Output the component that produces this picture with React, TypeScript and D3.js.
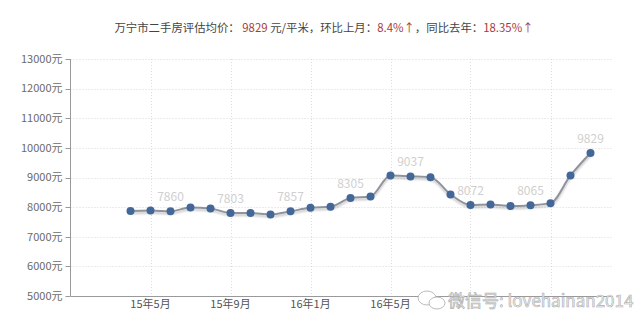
import React from "react";
import * as d3 from "d3";

// Monthly series: 2015-04 .. 2017-03 (index 0 = 15年4月)
const monthIndex = d3.range(0, 24);
const prices = [
  7865, 7885, 7860, 7990, 7955, 7803, 7805, 7750, 7857, 7980, 8010, 8305,
  8360, 9065, 9037, 9010, 8430, 8072, 8090, 8035, 8065, 8135, 9070, 9829,
];
const labelEvery = 3; // labels on indices 2,5,8,...
const yTicks = [5000, 6000, 7000, 8000, 9000, 10000, 11000, 12000, 13000];
const xTickMonths = [1, 5, 9, 13, 17, 21];
const xTickLabels = ["15年5月", "15年9月", "16年1月", "16年5月", "", ""];
const titleParts = [
  { t: "万宁市二手房评估均价： ", c: "#444" },
  { t: "9829", c: "#a83a3a" },
  { t: " 元/平米，环比上月：", c: "#444" },
  { t: "8.4%↑", c: "#a83a3a" },
  { t: "，同比去年：", c: "#444" },
  { t: "18.35%↑", c: "#a83a3a" },
];
const watermark = "微信号: lovehainan2014";

const W = 640;
const H = 330;
const FONT = "'Noto Sans CJK SC', 'Noto Sans', sans-serif";

export default function App() {
  const x = d3.scaleLinear().domain([-3, 24]).range([70.5, 610.5]);
  const y = d3.scaleLinear().domain([5000, 13000]).range([296, 59]);
  const left = x(-3);
  const right = 613;
  const line = d3
    .line<number>()
    .x((_, i) => x(monthIndex[i]))
    .y((d) => y(d))
    .curve(d3.curveMonotoneX);
  const path = line(prices) || "";

  return (
    <svg
      width={W}
      height={H}
      style={{ position: "absolute", left: 0, top: 0, background: "#fff" }}
      fontFamily={FONT}
    >
      <defs>
        <filter id="sh" x="-5%" y="-20%" width="110%" height="160%">
          <feGaussianBlur in="SourceAlpha" stdDeviation="1.2" />
          <feOffset dx="0" dy="2" result="b" />
          <feComponentTransfer>
            <feFuncA type="linear" slope="0.25" />
          </feComponentTransfer>
          <feMerge>
            <feMergeNode />
            <feMergeNode in="SourceGraphic" />
          </feMerge>
        </filter>
      </defs>

      {/* title */}
      <text x={324} y={32} fontSize={11.4} textAnchor="middle">
        {titleParts.map((p, i) => (
          <tspan key={i} fill={p.c}>
            {p.t}
          </tspan>
        ))}
      </text>

      {/* horizontal grid */}
      {yTicks.map((v) => (
        <g key={v}>
          {v !== 5000 && (
            <line
              x1={left}
              x2={right}
              y1={Math.round(y(v)) + 0.5}
              y2={Math.round(y(v)) + 0.5}
              stroke="#d8d8d8"
              strokeDasharray="1,2"
            />
          )}
          <line
            x1={left - 5}
            x2={left}
            y1={Math.round(y(v)) + 0.5}
            y2={Math.round(y(v)) + 0.5}
            stroke="#999"
          />
          <text
            x={left - 8}
            y={y(v)}
            dy="0.35em"
            fontSize={11}
            fill="#6a6a6a"
            textAnchor="end"
          >
            {v}元
          </text>
        </g>
      ))}

      {/* vertical grid */}
      {xTickMonths.map((m, i) => (
        <g key={m}>
          <line
            x1={Math.round(x(m)) + 0.5}
            x2={Math.round(x(m)) + 0.5}
            y1={y(13000)}
            y2={y(5000)}
            stroke="#dcdcdc"
            strokeDasharray="1,2"
          />
          {xTickLabels[i] && (
            <text
              x={x(m)}
              y={308}
              fontSize={11}
              fill="#555"
              textAnchor="middle"
            >
              {xTickLabels[i]}
            </text>
          )}
        </g>
      ))}

      {/* axes */}
      <line
        x1={left}
        x2={left}
        y1={y(13000)}
        y2={y(5000)}
        stroke="#999"
      />
      <line
        x1={left}
        x2={right}
        y1={Math.round(y(5000)) + 0.5}
        y2={Math.round(y(5000)) + 0.5}
        stroke="#999"
      />

      {/* line */}
      <path
        d={path}
        fill="none"
        stroke="#8f949c"
        strokeWidth={2}
        filter="url(#sh)"
      />

      {/* points */}
      {prices.map((v, i) => (
        <circle
          key={i}
          cx={x(monthIndex[i])}
          cy={y(v)}
          r={4}
          fill="#44679a"
        />
      ))}

      {/* value labels */}
      {prices.map((v, i) =>
        i % labelEvery === 2 ? (
          <text
            key={"l" + i}
            x={x(monthIndex[i])}
            y={y(v) - 10}
            fontSize={12}
            fill="#cfcfcf"
            textAnchor="middle"
          >
            {v}
          </text>
        ) : null
      )}

      {/* watermark */}
      <g transform="translate(418,300)" fill="#fff" stroke="#bbb" strokeWidth={1}>
        <ellipse cx={9} cy={-2} rx={9} ry={7} />
        <ellipse cx={19} cy={3} rx={8} ry={6} />
      </g>
      <text
        x={448}
        y={307}
        fontSize={17}
        fill="#f4f4f4"
        stroke="#aaa"
        strokeWidth={0.6}
      >
        {watermark}
      </text>
    </svg>
  );
}
